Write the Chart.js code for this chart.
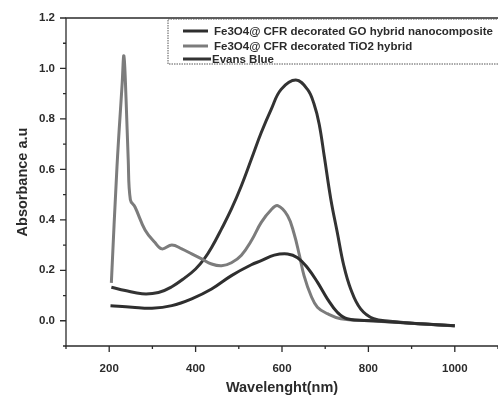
<!DOCTYPE html>
<html>
<head>
<meta charset="utf-8">
<script src="https://cdn.jsdelivr.net/npm/chart.js@4"></script>
<style>
  html, body { margin: 0; padding: 0; background: #fff; }
  #wrap { width: 498px; height: 403px; }
</style>
</head>
<body>
<div id="wrap"><canvas id="uvChart" width="498" height="403"></canvas></div>
<script>
// UV-Vis absorbance spectra

const legendLabels = [
    'Fe3O4@ CFR decorated GO hybrid nanocomposite',
    'Fe3O4@ CFR decorated TiO2 hybrid',
    'Evans Blue'
];

// Fe3O4@CFR / GO hybrid (low dark curve)
const wlGO = [203, 253, 299, 345, 391, 437, 483, 529, 552, 582, 613, 636, 659, 682, 705, 728, 751, 812, 900, 1000];
const absGO = [0.06, 0.054, 0.05, 0.06, 0.087, 0.126, 0.179, 0.222, 0.238, 0.26, 0.265, 0.25, 0.21, 0.153, 0.087, 0.034, 0.008, 0.0, -0.01, -0.02];

// Fe3O4@CFR / TiO2 hybrid (gray curve with the spike)
const wlTiO2 = [205, 218, 230, 234, 239, 244, 249, 260, 283, 306, 322, 345, 368, 391, 414, 437, 460, 483, 506, 530, 552, 575, 590, 613, 628, 640, 651, 667, 682, 705, 736, 800, 900, 1000];
const absTiO2 = [0.15, 0.61, 0.94, 1.05, 0.88, 0.64, 0.48, 0.45, 0.36, 0.31, 0.285, 0.30, 0.285, 0.265, 0.245, 0.225, 0.218, 0.23, 0.26, 0.32, 0.39, 0.44, 0.456, 0.416, 0.345, 0.262, 0.179, 0.10, 0.054, 0.028, 0.008, 0.0, -0.01, -0.02];

// Evans Blue (big dark peak)
const wlEB = [205, 237, 276, 314, 345, 375, 400, 420, 437, 460, 483, 506, 529, 552, 575, 598, 632, 659, 674, 686, 698, 713, 728, 743, 759, 782, 812, 850, 900, 1000];
const absEB = [0.133, 0.12, 0.107, 0.112, 0.135, 0.17, 0.205, 0.245, 0.29, 0.364, 0.443, 0.535, 0.64, 0.746, 0.838, 0.917, 0.954, 0.917, 0.86, 0.78, 0.65, 0.482, 0.35, 0.219, 0.126, 0.047, 0.008, -0.002, -0.01, -0.02];

const xMajor = [200, 400, 600, 800, 1000];
const yMajor = [0.0, 0.2, 0.4, 0.6, 0.8, 1.0, 1.2];

const FONT = '"Liberation Sans", Arial, sans-serif';
const INK = '#2b2b2b';

function toPoints(xs, ys) {
    return xs.map((x, i) => ({ x: x, y: ys[i] }));
}

// frame, tick marks and the boxed legend, like the Origin plot
const framePlugin = {
    id: 'frame',
    afterDraw(chart) {
        const ctx = chart.ctx;
        const a = chart.chartArea;
        const xs = chart.scales.x;
        const ys = chart.scales.y;
        ctx.save();
        ctx.strokeStyle = INK;
        ctx.lineWidth = 1.3;
        ctx.beginPath();
        ctx.moveTo(a.right, a.top);
        ctx.lineTo(a.left, a.top);
        ctx.lineTo(a.left, a.bottom);
        ctx.lineTo(a.right, a.bottom);
        ctx.stroke();

        ctx.beginPath();
        for (let v = 100; v <= 1100; v += 100) {
            const px = xs.getPixelForValue(v);
            const len = v % 200 === 0 ? 6 : 3;
            ctx.moveTo(px, a.bottom);
            ctx.lineTo(px, a.bottom + len);
        }
        for (let k = -1; k <= 12; k++) {
            const py = ys.getPixelForValue(k / 10);
            const len = k % 2 === 0 ? 6 : 3;
            ctx.moveTo(a.left, py);
            ctx.lineTo(a.left - len, py);
        }
        ctx.stroke();

        // legend box
        const bx = 168, by = a.top + 1, bw = 340, bh = 45;
        ctx.fillStyle = '#fff';
        ctx.fillRect(bx, by, bw, bh);
        ctx.setLineDash([1.5, 1]);
        ctx.lineWidth = 1;
        ctx.strokeStyle = '#555';
        ctx.strokeRect(bx, by, bw, bh);
        ctx.setLineDash([]);

        ctx.font = 'bold 11.5px ' + FONT;
        ctx.textBaseline = 'middle';
        const rows = [by + 12, by + 27, by + 40];
        chart.data.datasets.forEach((ds, i) => {
            const y = rows[i];
            const end = i === 2 ? 211 : 208;
            ctx.strokeStyle = ds.borderColor;
            ctx.lineWidth = 3;
            ctx.beginPath();
            ctx.moveTo(183, y);
            ctx.lineTo(end, y);
            ctx.stroke();
            ctx.fillStyle = INK;
            ctx.fillText(ds.label, i === 2 ? 212 : 214, y + 1);
        });
        ctx.restore();
    }
};

const ctx = document.getElementById('uvChart').getContext('2d');

new Chart(ctx, {
    type: 'line',
    data: {
        datasets: [
            {
                label: legendLabels[0],
                data: toPoints(wlGO, absGO),
                borderColor: '#2e2e2e',
                borderWidth: 3
            },
            {
                label: legendLabels[1],
                data: toPoints(wlTiO2, absTiO2),
                borderColor: '#7c7c7c',
                borderWidth: 3
            },
            {
                label: legendLabels[2],
                data: toPoints(wlEB, absEB),
                borderColor: '#333333',
                borderWidth: 3
            }
        ]
    },
    options: {
        responsive: false,
        animation: false,
        elements: {
            point: { radius: 0 },
            line: { tension: 0.4, capBezierPoints: true }
        },
        layout: {
            padding: { top: 18, right: 0, bottom: 6, left: 14 }
        },
        plugins: {
            legend: { display: false },
            tooltip: { enabled: false }
        },
        scales: {
            x: {
                type: 'linear',
                min: 100,
                max: 1100,
                afterBuildTicks: (scale) => {
                    scale.ticks = xMajor.map(v => ({ value: v }));
                },
                afterFit: (scale) => { scale.height = 51; },
                grid: { display: false, drawTicks: false },
                border: { display: false },
                ticks: {
                    padding: 16,
                    color: INK,
                    font: { family: FONT, size: 11.5, weight: 'bold' },
                    maxRotation: 0,
                    callback: (v) => String(v)
                },
                title: {
                    display: true,
                    text: 'Wavelenght(nm)',
                    color: INK,
                    font: { family: FONT, size: 14.5, weight: 'bold' },
                    padding: { top: 2, bottom: 0 }
                }
            },
            y: {
                min: -0.1,
                max: 1.2,
                afterBuildTicks: (scale) => {
                    scale.ticks = yMajor.map(v => ({ value: v }));
                },
                afterFit: (scale) => { scale.width = 52; },
                grid: { display: false, drawTicks: false },
                border: { display: false },
                ticks: {
                    padding: 11,
                    color: INK,
                    font: { family: FONT, size: 11.5, weight: 'bold' },
                    callback: (v) => v.toFixed(1)
                },
                title: {
                    display: true,
                    text: 'Absorbance a.u',
                    color: INK,
                    font: { family: FONT, size: 14.5, weight: 'bold' },
                    padding: { top: 0, bottom: 4 }
                }
            }
        }
    },
    plugins: [framePlugin]
});
</script>
</body>
</html>
